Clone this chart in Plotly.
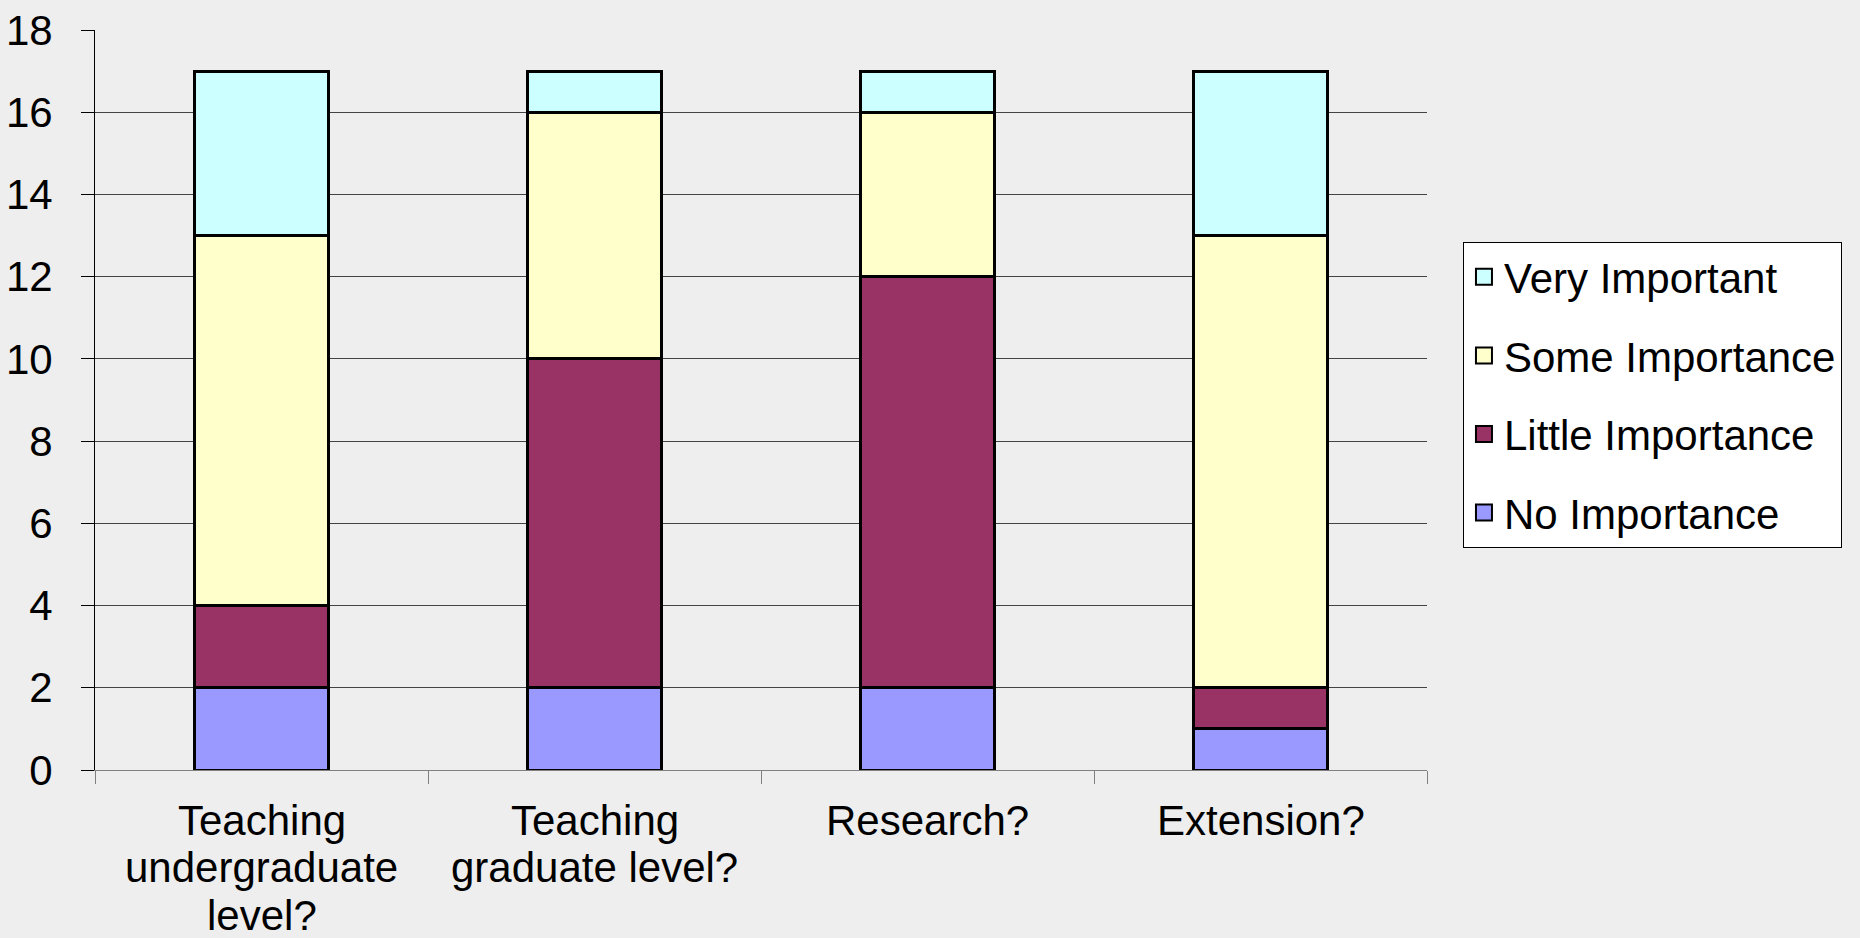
import plotly.graph_objects as go

categories = ["Teaching undergraduate level?", "Teaching graduate level?", "Research?", "Extension?"]
tick_labels = [["Teaching", "undergraduate", "level?"], ["Teaching", "graduate level?"], ["Research?"], ["Extension?"]]
no_importance = [2, 2, 2, 1]
little_importance = [2, 8, 10, 1]
some_importance = [9, 6, 4, 11]
very_important = [4, 1, 1, 4]

series = [
    ("No Importance", no_importance, "#9999FF", 4),
    ("Little Importance", little_importance, "#993366", 3),
    ("Some Importance", some_importance, "#FFFFCC", 2),
    ("Very Important", very_important, "#CCFFFF", 1),
]

FONT = "Liberation Sans, Arial, sans-serif"
LABEL_SIZE = 42
LINE_STEP = 47.5
FIRST_LINE_OFFSET = 50

fig = go.Figure()
for name, vals, color, rank in series:
    fig.add_trace(go.Bar(
        x=categories, y=vals, name=name, legendgroup=name, showlegend=False,
        marker=dict(color=color, line=dict(color="black", width=3)),
    ))
# legend entries (larger square swatches)
for name, vals, color, rank in series:
    fig.add_trace(go.Scatter(
        x=[None], y=[None], mode="markers", name=name, legendgroup=name,
        legendrank=rank, showlegend=True, hoverinfo="skip",
        marker=dict(symbol="square", size=22, color=color, line=dict(color="black", width=2)),
    ))

# category labels, one text line per annotation (tighter line spacing)
annotations = []
for cat, lines in zip(categories, tick_labels):
    for j, line in enumerate(lines):
        annotations.append(dict(
            x=cat, xref="x", y=0, yref="paper", yanchor="middle", xanchor="center",
            yshift=-(FIRST_LINE_OFFSET + j * LINE_STEP), text=line, showarrow=False,
            font=dict(family=FONT, size=LABEL_SIZE, color="black"),
        ))

fig.update_layout(
    width=1860, height=938,
    barmode="stack", bargap=0.6,
    paper_bgcolor="#EEEEEE", plot_bgcolor="#EEEEEE",
    margin=dict(l=95, r=433, t=30, b=168),
    font=dict(family=FONT, size=42, color="black"),
    showlegend=True,
    annotations=annotations,
    legend=dict(
        x=1.027, y=0.7135, xanchor="left", yanchor="top",
        bgcolor="white", bordercolor="black", borderwidth=1,
        traceorder="grouped", tracegroupgap=21, itemsizing="trace",
        font=dict(family=FONT, size=42, color="black"),
    ),
    xaxis=dict(
        type="category", tickson="boundaries", ticks="outside", ticklen=13,
        tickcolor="#808080", showline=True, linecolor="#808080", linewidth=1,
        showgrid=False, showticklabels=False, automargin=False,
    ),
    yaxis=dict(
        range=[0, 18], dtick=2, ticks="outside", ticklen=13, tickcolor="black",
        showline=True, linecolor="black", linewidth=1,
        showgrid=True, gridcolor="#444444", gridwidth=1,
        zeroline=True, zerolinecolor="#808080", zerolinewidth=1,
        tickfont=dict(size=42), ticklabelstandoff=20, automargin=False,
    ),
)

fig.write_html("out.html")
